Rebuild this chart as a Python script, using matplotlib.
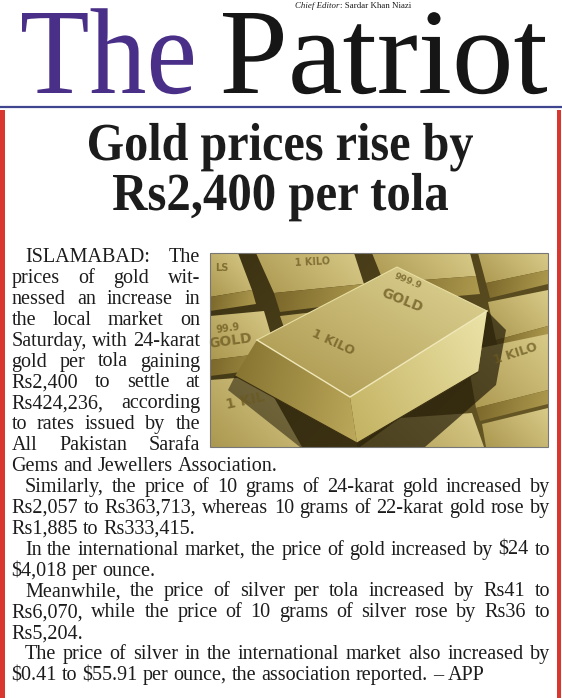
import numpy as np
import matplotlib
matplotlib.use('Agg')
import matplotlib.pyplot as plt
import matplotlib.colors as mcolors
import matplotlib.patheffects as pe
from matplotlib.patches import Polygon, Rectangle
from matplotlib.textpath import TextPath
from matplotlib.font_manager import FontProperties
from matplotlib.transforms import Affine2D

# page content
masthead = ['The', 'Patriot']
editor_label = 'Chief Editor'
editor_name = ': Sardar Khan Niazi'
headline = ['Gold prices rise by', 'Rs2,400 per tola']

paragraphs = [
    ['ISLAMABAD: The',
     'prices of gold wit-',
     'nessed an increase in',
     'the local market on',
     'Saturday, with 24-karat',
     'gold per tola gaining',
     'Rs2,400 to settle at',
     'Rs424,236, according',
     'to rates issued by the',
     'All Pakistan Sarafa',
     'Gems and Jewellers Association.'],
    ['Similarly, the price of 10 grams of 24-karat gold increased by',
     'Rs2,057 to Rs363,713, whereas 10 grams of 22-karat gold rose by',
     'Rs1,885 to Rs333,415.'],
    ['In the international market, the price of gold increased by $24 to',
     '$4,018 per ounce.'],
    ['Meanwhile, the price of silver per tola increased by Rs41 to',
     'Rs6,070, while the price of 10 grams of silver rose by Rs36 to',
     'Rs5,204.'],
    ['The price of silver in the international market also increased by',
     '$0.41 to $55.91 per ounce, the association reported. \u2013 APP'],
]

# photo: labels stamped on the bars
bar_labels = ['1 KILO', 'LS', '999.9', 'GOLD', '1 KILO', 'GOLD', '99.9', '1 KIL', '1 KILO']

W, H, DPI = 562, 698, 100
SERIF = 'Liberation Serif'
INK = '#1c1c1c'
RED = '#d8362f'
PHOTO = (210, 253, 548, 447)

fig = plt.figure(figsize=(W / DPI, H / DPI), dpi=DPI)
ax = fig.add_axes([0, 0, 1, 1])
ax.set_xlim(0, W)
ax.set_ylim(H, 0)
ax.axis('off')
renderer = fig.canvas.get_renderer()


class Stretch(pe.AbstractPathEffect):
    """Scale glyphs around the text anchor (left end of the baseline)."""
    def __init__(self, sx, sy=1.0):
        super().__init__()
        self.sx, self.sy = sx, sy
        self.text = None

    def draw_path(self, renderer, gc, tpath, affine, rgbFace=None):
        ox, oy = self.text.get_transform().transform(self.text.get_position())
        aff = affine + Affine2D().translate(-ox, -oy).scale(self.sx, self.sy).translate(ox, oy)
        renderer.draw_path(gc, tpath, aff, rgbFace)


def fitted_text(s, x0, x1, base, cap_px, weight, color, shrink=1.0):
    # shrink: draw at a smaller nominal size and scale the glyphs back up,
    # so the line box stays close to the ink
    fp = FontProperties(family=SERIF, weight=weight)
    cap = TextPath((0, 0), 'H', size=100, prop=fp).get_extents().y1 / 100
    fs = cap_px * 72 / DPI / cap / shrink
    ink = TextPath((0, 0), s, size=fs, prop=fp).get_extents()
    k = DPI / 72
    sx = (x1 - x0) / (ink.width * k)
    st = Stretch(sx, shrink)
    t = ax.text(x0 - ink.x0 * k * sx, base, s, fontproperties=fp, fontsize=fs,
                color=color, ha='left', va='baseline', path_effects=[st])
    st.text = t
    return t


# masthead
fitted_text(masthead[0], 22, 193, 93, 80, 'normal', '#4a2f88', shrink=2.5)
fitted_text(masthead[1], 223, 547, 93, 80, 'normal', '#161616', shrink=2.5)
t1 = ax.text(295, 7.5, editor_label, fontsize=6.4, family=SERIF, style='italic',
             color=INK, va='baseline')
w1 = t1.get_window_extent(renderer).width
ax.text(295 + w1, 7.5, editor_name, fontsize=6.4, family=SERIF, color=INK, va='baseline')

ax.plot([0, W], [107, 107], color='#3f468f', lw=1.6, solid_capstyle='butt')
ax.add_patch(Rectangle((0, 110), 4.5, H - 110, color=RED, lw=0))
ax.add_patch(Rectangle((556.5, 110), 4.5, H - 110, color=RED, lw=0))

# headline
fitted_text(headline[0], 89, 473, 160, 35, 'bold', INK)
fitted_text(headline[1], 113, 448, 210, 35, 'bold', INK)

# ---- photo of gold bars ----
clip_rect = Rectangle((PHOTO[0], PHOTO[1]), PHOTO[2] - PHOTO[0], PHOTO[3] - PHOTO[1],
                      transform=ax.transData, facecolor='none')


def shade(pts, c1, c2, d=(1, -1), z=2):
    pts = np.asarray(pts, float)
    pts[:, 0] = np.clip(pts[:, 0], PHOTO[0], PHOTO[2])
    pts[:, 1] = np.clip(pts[:, 1], PHOTO[1], PHOTO[3])
    (xmin, ymin), (xmax, ymax) = pts.min(0), pts.max(0)
    gx, gy = np.meshgrid(np.linspace(0, 1, 48), np.linspace(0, 1, 48))
    t = gx * d[0] * (xmax - xmin) + gy * d[1] * (ymax - ymin)
    t = (t - t.min()) / (t.max() - t.min() + 1e-9)
    a, b = np.array(mcolors.to_rgb(c1)), np.array(mcolors.to_rgb(c2))
    img = a * (1 - t[..., None]) + b * t[..., None]
    im = ax.imshow(img, extent=(xmin, xmax, ymax, ymin), origin='upper',
                   interpolation='bilinear', zorder=z, aspect='auto')
    im.set_clip_path(Polygon(pts, closed=True, transform=ax.transData))


shade([(210, 253), (548, 253), (548, 447), (210, 447)], '#3a3112', '#6a5a27', d=(1, 1), z=1)

bg_bars = [
    ([(210, 253), (238, 253), (252, 290), (210, 297)], [(210, 297), (252, 290), (256, 304), (210, 311)]),
    ([(256, 253), (354, 253), (364, 284), (274, 293)], [(274, 293), (364, 284), (368, 301), (280, 312)]),
    ([(372, 253), (470, 253), (476, 276), (384, 283)], [(384, 283), (476, 276), (480, 294), (390, 302)]),
    ([(478, 253), (548, 253), (548, 270), (486, 283)], [(486, 283), (548, 270), (548, 284), (490, 298)]),
    ([(280, 316), (392, 303), (400, 330), (290, 345)], [(290, 345), (400, 330), (404, 346), (296, 361)]),
    ([(210, 316), (264, 311), (276, 352), (210, 360)], [(210, 360), (276, 352), (280, 367), (210, 376)]),
    ([(488, 302), (548, 290), (548, 326), (496, 340)], [(496, 340), (548, 326), (548, 339), (500, 353)]),
    ([(466, 351), (548, 334), (548, 390), (476, 408)], [(476, 408), (548, 390), (548, 404), (480, 421)]),
    ([(482, 424), (548, 408), (548, 447), (486, 447)], None),
    ([(210, 380), (262, 376), (302, 447), (210, 447)], None),
    ([(360, 447), (400, 418), (472, 413), (484, 447)], None),
]
for top, side in bg_bars:
    shade(top, '#ab9850', '#d8ca88', d=(1, -1), z=2)
    if side is not None:
        shade(side, '#7a672a', '#ae9a4e', d=(1, 0.2), z=2)

# shadow of the main bar
ax.add_patch(Polygon([(487, 311), (506, 330), (496, 385), (425, 447), (357, 447), (357, 443), (478, 372)],
                     closed=True, facecolor='#241c08', alpha=0.7, lw=0, zorder=3,
                     clip_path=clip_rect))
ax.add_patch(Polygon([(235, 376), (357, 443), (357, 447), (300, 447), (228, 390)],
                     closed=True, facecolor='#241c08', alpha=0.55, lw=0, zorder=3,
                     clip_path=clip_rect))

# main bar
shade([(257, 340), (397, 267), (487, 311), (350, 397)], '#a8944a', '#e0d596', d=(0.6, -1), z=4)
shade([(257, 340), (350, 397), (357, 443), (235, 376)], '#85722f', '#bba85a', d=(1, 0.2), z=4)
shade([(350, 397), (487, 311), (478, 372), (357, 443)], '#c2b160', '#ece3a8', d=(1, -0.6), z=4)
ax.plot([257, 350, 487], [340, 397, 311], color='#f1e9ba', lw=1.0, zorder=5)
ax.plot([257, 397, 487], [340, 267, 311], color='#e8dea2', lw=0.8, zorder=5)
ax.plot([235, 357, 478], [376, 443, 372], color='#3a2f10', lw=0.8, zorder=5)

label_pos = [(312, 262, 3, 7), (222, 268, 0, 7), (408, 281, -22, 6.5), (402, 300, -22, 10),
             (333, 342, -25, 9), (230, 341, 8, 10), (228, 328, 8, 7), (245, 401, 12, 10),
             (515, 354, 18, 9)]
for s, (x, y, r, fs) in zip(bar_labels, label_pos):
    t = ax.text(x, y, s, fontsize=fs, family='DejaVu Sans', fontweight='bold', rotation=r,
                rotation_mode='anchor', ha='center', va='center', color='#6b5920', alpha=0.75,
                zorder=6)
    t.set_clip_path(clip_rect)

ax.add_patch(Rectangle((PHOTO[0], PHOTO[1]), PHOTO[2] - PHOTO[0], PHOTO[3] - PHOTO[1],
                       facecolor='none', edgecolor='#777777', lw=0.8, zorder=7))

# ---- body text ----
FS = 14.5
BASE0, LEAD = 262, 20.9
LEFT, INDENT, COL_RIGHT, RIGHT = 11.5, 25, 200, 550
N_NARROW = 10
space_w = 0.25 * FS * DPI / 72


def set_line(words, x0, x1, y, justified):
    texts = [ax.text(0, y, w, fontsize=FS, family=SERIF, color=INK, ha='left', va='baseline')
             for w in words]
    widths = [t.get_window_extent(renderer).width for t in texts]
    gap = (x1 - x0 - sum(widths)) / (len(words) - 1) if justified and len(words) > 1 else space_w
    x = x0
    for t, w in zip(texts, widths):
        t.set_x(x)
        x += w + gap


k = 0
for para in paragraphs:
    for i, line in enumerate(para):
        x0 = INDENT if i == 0 else LEFT
        x1 = COL_RIGHT if k < N_NARROW else RIGHT
        set_line(line.split(' '), x0, x1, BASE0 + k * LEAD, i < len(para) - 1)
        k += 1

ax.set_xlim(0, W)
ax.set_ylim(H, 0)
fig.savefig('out.png', dpi=DPI, facecolor='white')
